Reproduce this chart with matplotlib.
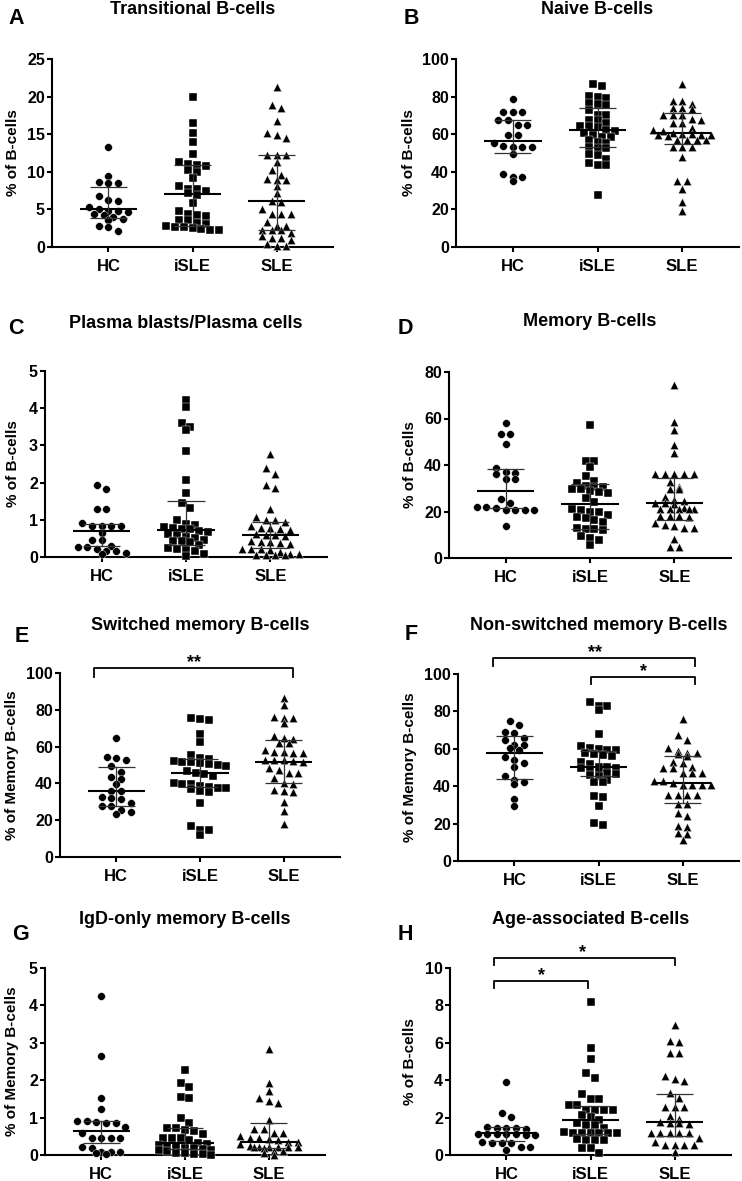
import numpy as np
import matplotlib.pyplot as plt

plt.rcParams['font.family'] = ['Liberation Sans', 'DejaVu Sans']
plt.rcParams['font.weight'] = 'bold'

W, H = 742, 1181
groups = ['HC', 'iSLE', 'SLE']

# ---- A: Transitional B-cells
hc_a = [13.3, 9.4, 8.6, 8.5, 8.5, 6.8, 6.3, 6.1, 5.3, 5.0, 4.8, 4.8, 4.7, 4.4, 4.2,
        4.0, 3.7, 3.6, 2.8, 2.7, 2.1]
isle_a = [19.9, 16.5, 15.1, 14.0, 12.4, 11.3, 11.1, 10.9, 10.8, 10.2, 10.0, 9.2, 8.1,
          7.7, 7.7, 7.5, 7.2, 6.95, 5.9, 4.8, 4.4, 4.2, 4.1, 3.6, 3.6, 3.2, 3.0, 2.8,
          2.7, 2.6, 2.5, 2.4, 2.3, 2.2]
sle_a = [21.3, 18.9, 18.5, 16.8, 15.1, 14.9, 14.5, 12.2, 12.2, 12.2, 11.3, 10.2, 9.6,
         9.1, 8.9, 8.9, 8.1, 7.2, 6.1, 6.0, 5.1, 4.4, 4.4, 4.4, 3.3, 2.8, 2.8, 2.3, 2.3,
         2.3, 1.8, 1.4, 1.2, 1.2, 0.9, 0.45, 0.1, 0.1]
med_a, q1_a, q3_a = [5.0, 7.1, 6.1], [3.9, 2.8, 2.3], [8.0, 10.9, 12.3]

# ---- B: Naive B-cells
hc_b = [78.8, 71.7, 71.7, 71.7, 67.6, 67.3, 64.9, 64.9, 59.6, 59.6, 55.2, 53.9, 53.4,
        53.4, 53.4, 49.3, 38.8, 37.4, 37.4, 35.1]
isle_b = [86.8, 85.4, 80.4, 79.7, 79.2, 76.5, 76.0, 75.6, 73.0, 70.3, 70.3, 67.6, 67.6,
          65.8, 64.1, 64.1, 63.7, 62.3, 61.9, 60.9, 59.6, 58.7, 58.4, 57.0, 56.0, 55.5,
          53.4, 52.5, 52.5, 49.5, 48.9, 46.6, 44.5, 43.6, 43.6, 27.9]
sle_b = [86.8, 77.4, 77.4, 76.2, 73.8, 73.8, 73.3, 70.3, 70.3, 70.3, 68.0, 67.3, 65.8,
         65.8, 63.2, 62.3, 61.5, 60.5, 60.2, 60.0, 59.8, 59.6, 59.4, 59.2, 56.9, 56.9,
         56.9, 56.9, 53.4, 53.4, 53.4, 48.0, 35.1, 35.1, 31.1, 24.0, 19.0]
med_b, q1_b, q3_b = [56.6, 62.3, 60.5], [50.2, 53.4, 54.8], [67.3, 73.8, 71.2]

# ---- C: Plasma blasts/Plasma cells
hc_c = [1.93, 1.84, 1.30, 1.30, 0.92, 0.83, 0.83, 0.83, 0.83, 0.65, 0.45, 0.45, 0.29,
        0.27, 0.27, 0.22, 0.15, 0.15, 0.11, 0.09]
isle_c = [4.22, 4.04, 3.59, 3.50, 3.41, 2.85, 2.06, 1.71, 1.44, 1.33, 1.0, 0.9, 0.85,
          0.8, 0.78, 0.76, 0.74, 0.70, 0.66, 0.62, 0.58, 0.54, 0.50, 0.46, 0.43, 0.42,
          0.40, 0.32, 0.25, 0.22, 0.20, 0.15, 0.09, 0.04]
sle_c = [2.76, 2.38, 2.24, 1.93, 1.86, 1.28, 1.08, 1.0, 0.99, 0.94, 0.83, 0.79, 0.78,
         0.76, 0.72, 0.63, 0.58, 0.58, 0.56, 0.42, 0.40, 0.40, 0.38, 0.36, 0.22, 0.22,
         0.22, 0.20, 0.14, 0.07, 0.07, 0.05, 0.05, 0.05, 0.05]
med_c, q1_c, q3_c = [0.70, 0.72, 0.58], [0.30, 0.33, 0.25], [0.88, 1.5, 0.94]

# ---- D: Memory B-cells
hc_d = [57.9, 53.3, 53.3, 48.9, 38.9, 37.1, 36.4, 36.0, 34.0, 33.9, 25.3, 23.6, 21.9,
        21.9, 21.5, 20.7, 20.7, 20.7, 20.7, 13.6]
isle_d = [57.4, 41.9, 41.7, 39.3, 35.3, 33.0, 32.4, 31.0, 30.7, 30.5, 29.7, 29.6, 29.0,
          28.6, 28.0, 26.0, 24.0, 21.0, 20.7, 20.0, 20.0, 18.6, 17.5, 17.1, 16.4, 15.5,
          13.0, 12.4, 12.4, 12.0, 9.3, 8.6, 7.9, 5.7]
sle_d = [74.3, 58.6, 55.0, 48.6, 45.0, 36.1, 36.1, 36.1, 36.1, 36.1, 32.9, 30.7, 29.6,
         29.6, 26.4, 25.0, 24.5, 23.6, 23.6, 23.2, 21.4, 21.2, 21.0, 21.0, 21.0, 21.0,
         17.9, 17.9, 17.9, 17.6, 15.0, 14.3, 13.6, 13.0, 12.8, 8.1, 4.7, 4.7]
med_d, q1_d, q3_d = [29.0, 23.4, 23.6], [21.5, 12.4, 16.4], [38.1, 31.7, 34.6]

# ---- E: Switched memory B-cells
hc_e = [64.9, 54.5, 53.6, 52.7, 49.6, 46.4, 43.6, 42.2, 39.6, 36.0, 35.8, 32.4, 31.8,
        31.5, 29.5, 27.6, 27.6, 25.5, 24.5, 23.3]
isle_e = [75.8, 74.8, 74.5, 66.9, 62.7, 55.5, 54.0, 53.5, 52.0, 51.8, 51.5, 51.0, 50.5,
          50.0, 49.5, 46.5, 45.8, 45.0, 44.0, 40.0, 39.6, 39.5, 38.5, 38.0, 37.5, 37.3,
          37.0, 36.0, 35.5, 29.1, 16.7, 14.9, 14.5, 11.8]
sle_e = [86.4, 82.7, 76.0, 75.5, 75.5, 72.7, 65.8, 64.5, 64.0, 62.2, 62.2, 58.2, 57.3,
         57.0, 56.4, 56.4, 52.7, 52.7, 52.7, 52.0, 51.5, 48.2, 47.5, 45.5, 45.5, 42.7,
         40.4, 39.5, 36.4, 36.0, 35.5, 30.0, 25.1, 18.2]
med_e, q1_e, q3_e = [35.8, 45.5, 51.8], [27.8, 37.8, 40.0], [48.7, 53.1, 63.6]

# ---- F: Non-switched memory B-cells
hc_f = [75.0, 72.5, 68.8, 68.4, 65.7, 64.5, 62.1, 62.1, 60.4, 59.5, 55.5, 54.1, 52.3,
        50.5, 45.2, 43.4, 42.5, 41.3, 33.0, 29.6]
isle_f = [84.8, 83.0, 82.7, 80.5, 67.9, 61.3, 60.4, 59.8, 59.5, 59.1, 57.7, 57.0, 56.5,
          55.9, 53.2, 52.0, 50.5, 50.5, 50.0, 49.6, 48.4, 47.9, 47.3, 46.5, 46.0, 45.2,
          43.4, 42.5, 42.0, 34.5, 34.0, 29.6, 20.2, 19.3]
sle_f = [75.9, 67.5, 64.8, 60.4, 58.6, 57.7, 57.7, 57.0, 55.9, 53.2, 52.5, 50.5, 49.6,
         49.6, 47.0, 47.0, 47.0, 43.0, 43.0, 41.6, 40.7, 40.7, 40.7, 40.7, 40.7, 35.4,
         35.4, 35.4, 35.4, 30.5, 30.5, 25.5, 24.1, 18.8, 18.4, 14.8, 14.5, 11.2]
med_f, q1_f, q3_f = [57.7, 50.5, 41.6], [43.9, 45.2, 30.9], [66.6, 58.6, 55.9]

# ---- G: IgD-only memory B-cells
hc_g = [4.24, 2.66, 1.52, 1.22, 0.92, 0.90, 0.87, 0.85, 0.85, 0.76, 0.58, 0.45, 0.45,
        0.45, 0.45, 0.22, 0.18, 0.09, 0.09, 0.09, 0.05, 0.02]
isle_g = [2.28, 1.92, 1.81, 1.56, 1.52, 0.98, 0.85, 0.71, 0.71, 0.68, 0.63, 0.55, 0.45,
          0.45, 0.45, 0.40, 0.33, 0.30, 0.27, 0.22, 0.22, 0.20, 0.18, 0.15, 0.13, 0.13,
          0.10, 0.06, 0.05, 0.03, 0.02, 0.0]
sle_g = [2.83, 1.92, 1.72, 1.52, 1.45, 1.40, 0.94, 0.69, 0.69, 0.58, 0.58, 0.51, 0.45,
         0.45, 0.42, 0.40, 0.36, 0.36, 0.30, 0.25, 0.22, 0.22, 0.22, 0.22, 0.22, 0.22,
         0.18, 0.12, 0.12, 0.05, 0.0]
med_g, q1_g, q3_g = [0.65, 0.33, 0.36], [0.31, 0.15, 0.20], [0.92, 0.72, 0.85]

# ---- H: Age-associated B-cells
hc_h = [3.93, 2.27, 2.02, 1.52, 1.45, 1.43, 1.43, 1.40, 1.13, 1.13, 1.13, 1.10, 1.10,
        1.07, 1.05, 0.71, 0.63, 0.63, 0.63, 0.45, 0.45, 0.27]
isle_h = [8.16, 5.71, 5.14, 4.38, 4.11, 3.25, 2.98, 2.98, 2.68, 2.68, 2.41, 2.41, 2.41,
          2.41, 2.14, 2.05, 1.87, 1.73, 1.61, 1.61, 1.43, 1.25, 1.20, 1.16, 1.16, 1.16,
          1.16, 1.16, 0.85, 0.80, 0.80, 0.80, 0.36, 0.36, 0.09]
sle_h = [6.96, 6.11, 6.02, 5.48, 5.45, 4.20, 4.05, 3.98, 3.30, 3.04, 2.59, 2.59, 2.59,
         2.09, 1.91, 1.75, 1.72, 1.70, 1.68, 1.20, 1.20, 1.20, 1.16, 1.16, 0.89, 0.71,
         0.54, 0.54, 0.54, 0.54, 0.18]
med_h, q1_h, q3_h = [1.20, 1.87, 1.75], [0.75, 1.10, 1.00], [1.48, 2.63, 3.25]

# layout in reference pixels: (left, right, top, bottom), title y, ylabel x, letter xy
panels = [
    dict(letter='A', title='Transitional B-cells', ylabel='% of B-cells',
         data=(hc_a, isle_a, sle_a), stats=(med_a, q1_a, q3_a), ymax=25, ystep=5,
         box=(52, 333, 59, 247), ty=10, lx=13, let=(8, 19), br=[]),
    dict(letter='B', title='Naive B-cells', ylabel='% of B-cells',
         data=(hc_b, isle_b, sle_b), stats=(med_b, q1_b, q3_b), ymax=100, ystep=20,
         box=(456, 739, 59, 247), ty=10, lx=409, let=(404, 19), br=[]),
    dict(letter='C', title='Plasma blasts/Plasma cells', ylabel='% of B-cells',
         data=(hc_c, isle_c, sle_c), stats=(med_c, q1_c, q3_c), ymax=5, ystep=1,
         box=(45, 327, 371, 557), ty=323, lx=13, let=(8, 328), br=[]),
    dict(letter='D', title='Memory B-cells', ylabel='% of B-cells',
         data=(hc_d, isle_d, sle_d), stats=(med_d, q1_d, q3_d), ymax=80, ystep=20,
         box=(449, 731, 372, 558), ty=322, lx=410, let=(398, 328), br=[]),
    dict(letter='E', title='Switched memory B-cells', ylabel='% of Memory B-cells',
         data=(hc_e, isle_e, sle_e), stats=(med_e, q1_e, q3_e), ymax=100, ystep=20,
         box=(60, 340, 673, 857), ty=625, lx=12, let=(15, 637),
         br=[(-0.26, 2.11, 102.6, 98.0, '**', 0.93)]),
    dict(letter='F', title='Non-switched memory B-cells', ylabel='% of Memory B-cells',
         data=(hc_f, isle_f, sle_f), stats=(med_f, q1_f, q3_f), ymax=100, ystep=20,
         box=(458, 739, 674, 861), ty=625, lx=410, let=(405, 635),
         br=[(-0.25, 2.15, 108.6, 104.3, '**', 0.96),
             (0.905, 2.15, 98.5, 94.6, '*', 1.54)]),
    dict(letter='G', title='IgD-only memory B-cells', ylabel='% of Memory B-cells',
         data=(hc_g, isle_g, sle_g), stats=(med_g, q1_g, q3_g), ymax=5, ystep=1,
         box=(45, 325, 968, 1155), ty=919, lx=12, let=(12, 935), br=[]),
    dict(letter='H', title='Age-associated B-cells', ylabel='% of B-cells',
         data=(hc_h, isle_h, sle_h), stats=(med_h, q1_h, q3_h), ymax=10, ystep=2,
         box=(450, 731, 968, 1155), ty=919, lx=410, let=(398, 935),
         br=[(-0.15, 2.0, 10.55, 10.16, '*', 0.91),
             (-0.15, 0.97, 9.32, 8.91, '*', 0.42)]),
]

markers = ['o', 's', '^']
msizes = [5.6, 5.3, 6.0]
XL = (-0.67, 2.67)


def spread(vals, ppu, sp, row_px, max_n=7):
    # GraphPad-like rows: points with close values share a row, centred on the column
    vals = np.asarray(vals, float)
    order = np.argsort(-vals, kind='stable')
    x = np.zeros(len(vals))
    rows, cur = [], [order[0]]
    for i in order[1:]:
        if (vals[cur[0]] - vals[i]) * ppu < row_px and len(cur) < max_n:
            cur.append(i)
        else:
            rows.append(cur)
            cur = [i]
    rows.append(cur)
    for r in rows:
        n = len(r)
        for k, i in enumerate(r):
            x[i] = (k - (n - 1) / 2) * sp
    return x


fig = plt.figure(figsize=(W / 100, H / 100), dpi=100)

for p in panels:
    l, r, t, b = p['box']
    ax = fig.add_axes([l / W, 1 - b / H, (r - l) / W, (b - t) / H])
    ax.set_xlim(*XL)
    ax.set_ylim(0, p['ymax'])
    for s in ['top', 'right']:
        ax.spines[s].set_visible(False)
    for s in ['left', 'bottom']:
        ax.spines[s].set_linewidth(1.5)
    ax.set_xticks(range(3))
    ax.set_xticklabels(groups)
    ax.set_yticks(np.arange(0, p['ymax'] + p['ystep'] / 2, p['ystep']))
    ax.tick_params(axis='y', length=3.6, width=1.5, labelsize=11.5, pad=1.5)
    ax.tick_params(axis='x', length=3.6, width=1.5, labelsize=12, pad=5)

    ppu = (b - t) / p['ymax']
    ppx = (r - l) / (XL[1] - XL[0])
    med, q1, q3 = p['stats']
    for g, vals in enumerate(p['data']):
        sp = 9.6 / ppx if g != 1 else 8.8 / ppx
        xs = spread(vals, ppu, sp, 6.0) + g
        ax.scatter(xs, vals, marker=markers[g], s=msizes[g] ** 2, c='black',
                   edgecolors='white', linewidths=0.3, zorder=3, clip_on=False)
        ax.plot([g - 0.34, g + 0.34], [med[g], med[g]], color='black', lw=1.5,
                zorder=4, solid_capstyle='butt')
        ax.plot([g, g], [q1[g], q3[g]], color='#333333', lw=0.9, zorder=4)
        for q in (q1[g], q3[g]):
            ax.plot([g - 0.22, g + 0.22], [q, q], color='#333333', lw=0.9,
                    zorder=4, solid_capstyle='butt')

    for x1, x2, yt, yd, lab, xt in p['br']:
        ax.plot([x1, x1, x2, x2], [yd, yt, yt, yd], color='black', lw=1.3,
                clip_on=False)
        ax.annotate(lab, (xt, yt), xytext=(0, 0.5), textcoords='offset points',
                    ha='center', va='baseline', fontsize=13, fontweight='bold',
                    annotation_clip=False)

    fig.text((l + r) / 2 / W, 1 - p['ty'] / H, p['title'], ha='center', va='center',
             fontsize=13, fontweight='bold')
    fig.text(p['lx'] / W, 1 - (t + b) / 2 / H, p['ylabel'], rotation=90,
             ha='center', va='center', fontsize=11, fontweight='bold')
    fig.text(p['let'][0] / W, 1 - p['let'][1] / H, p['letter'], ha='left',
             va='center', fontsize=15.5, fontweight='bold')

fig.savefig('out.png', dpi=100)
